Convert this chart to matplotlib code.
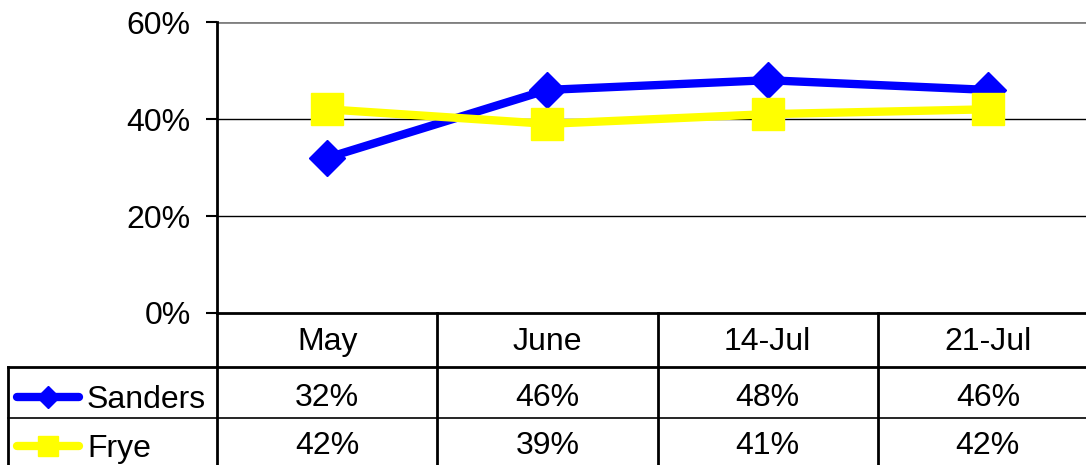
import matplotlib.pyplot as plt
from matplotlib.lines import Line2D
from matplotlib.transforms import blended_transform_factory

plt.rcParams['font.family'] = ['Liberation Sans', 'DejaVu Sans']

# 데이터
categories = ['May', 'June', '14-Jul', '21-Jul']
sanders = [32, 46, 48, 46]
frye = [42, 39, 41, 42]
series_names = ['Sanders', 'Frye']
yticks = [0, 20, 40, 60]

FS = 23

fig = plt.figure(figsize=(10.86, 4.65), dpi=100)
# 플롯 영역 (오른쪽은 그림 밖으로 잘림)
ax = fig.add_axes([217 / 1086, 152 / 465, 881 / 1086, 291 / 465])

x = list(range(len(categories)))
ax.plot(x, sanders, color='#0000ff', lw=6, marker='D', ms=18,
        mec='#0000ff', mfc='#0000ff', zorder=3, clip_on=False)
ax.plot(x, frye, color='#ffff00', lw=6, marker='s', ms=23,
        mec='#ffff00', mfc='#ffff00', zorder=4, clip_on=False)

ax.set_xlim(-0.5, len(categories) - 0.5)
ax.set_ylim(0, 60)
ax.set_yticks(yticks)
ax.set_yticklabels([f'{t}%' for t in yticks], fontsize=FS)
ax.tick_params(axis='y', direction='out', length=8, width=1.5, pad=11)
ax.set_xticks([])

# 그리드 선
for t in yticks[1:-1]:
    ax.axhline(t, color='black', lw=1, zorder=1)
ax.axhline(60, color='#808080', lw=2, zorder=1)

for side in ['top', 'right']:
    ax.spines[side].set_visible(False)
ax.spines['left'].set_linewidth(2)
ax.spines['bottom'].set_linewidth(2)

# 데이터 표
px = 1 / 291  # 축 좌표에서 1픽셀
trans = blended_transform_factory(ax.transData, ax.transAxes)
row_lines = [0.0, -54 * px, -105 * px, -157 * px]
for i in range(len(categories) + 1):
    ax.plot([i - 0.5, i - 0.5], [0, row_lines[-1]], color='black', lw=2,
            transform=trans, clip_on=False)
ax.plot([0, 1.1], [row_lines[1]] * 2, color='black', lw=2,
        transform=ax.transAxes, clip_on=False)
ax.plot([0, 1.1], [row_lines[2]] * 2, color='black', lw=1.2,
        transform=ax.transAxes, clip_on=False)

for i, cat in enumerate(categories):
    ax.text(i, -29 * px, cat, transform=trans,
            ha='center', va='center', fontsize=FS)
    ax.text(i, -85 * px, f'{sanders[i]}%', transform=trans,
            ha='center', va='center', fontsize=FS)
    ax.text(i, -133 * px, f'{frye[i]}%', transform=trans,
            ha='center', va='center', fontsize=FS)

# 표의 왼쪽 범례 칸
fig.add_artist(Line2D([8 / 1086, 217 / 1086], [1 - 367 / 465] * 2, color='black', lw=2))
fig.add_artist(Line2D([8 / 1086, 8 / 1086], [1 - 367 / 465, 0], color='black', lw=2))
fig.add_artist(Line2D([8 / 1086, 217 / 1086], [1 - 418 / 465] * 2, color='black', lw=1.2))

legend_rows = [(1 - 397 / 465, '#0000ff', 'D', 11), (1 - 446 / 465, '#ffff00', 's', 15)]
for (yy, col, mk, ms), name in zip(legend_rows, series_names):
    fig.add_artist(Line2D([17 / 1086, 79 / 1086], [yy, yy], color=col, lw=6,
                          solid_capstyle='round'))
    fig.add_artist(Line2D([48 / 1086], [yy], color=col, marker=mk, ms=ms,
                          mec=col, mfc=col))
    fig.text(87 / 1086, yy - 3 / 465, name, ha='left', va='center', fontsize=FS)

fig.savefig('out.png', dpi=100)
